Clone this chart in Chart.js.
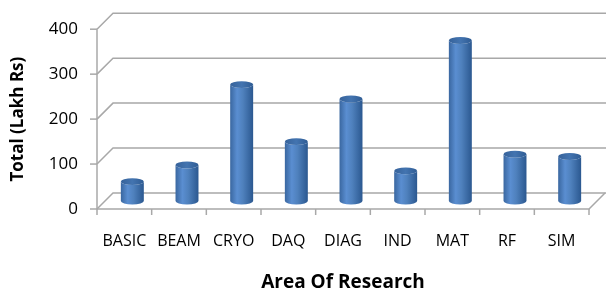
<!DOCTYPE html>
<html>
<head>
<meta charset="utf-8">
<script src="https://cdn.jsdelivr.net/npm/chart.js@4"></script>
<style>
  html, body { margin: 0; padding: 0; background: #fff; }
  #wrap { width: 606px; height: 298px; }
</style>
</head>
<body>
<div id="wrap"><canvas id="researchChart" width="606" height="298"></canvas></div>
<script>
// Data
const areas = ['BASIC', 'BEAM', 'CRYO', 'DAQ', 'DIAG', 'IND', 'MAT', 'RF', 'SIM'];
const totals = [43, 80, 259, 132, 227, 67, 357, 104, 99];
const yTicks = [0, 100, 200, 300, 400];

// 3D depth of the wall / floor, in px
const DEPTH = 16;

// Back wall, floor and axis lines drawn with the scales' own pixels
const wallPlugin = {
    id: 'wall',
    beforeDatasetsDraw(chart) {
        const { ctx, scales: { x, y } } = chart;
        const left = x.left, right = x.right;
        const y0 = y.getPixelForValue(0);
        ctx.save();
        ctx.lineWidth = 1.5;
        ctx.strokeStyle = '#a8a8a8';

        // gridlines: diagonal from the front axis, then along the back wall
        yTicks.forEach(v => {
            const py = y.getPixelForValue(v);
            ctx.beginPath();
            ctx.moveTo(left, py);
            ctx.lineTo(left + DEPTH, py - DEPTH);
            ctx.lineTo(chart.width, py - DEPTH);
            ctx.stroke();
            // small tick on the axis
            ctx.beginPath();
            ctx.moveTo(left - 7, py);
            ctx.lineTo(left, py);
            ctx.stroke();
        });

        // front axis
        ctx.beginPath();
        ctx.moveTo(left, y.getPixelForValue(400));
        ctx.lineTo(left, y0);
        ctx.stroke();

        // floor front edge and right side
        ctx.beginPath();
        ctx.moveTo(left, y0);
        ctx.lineTo(right, y0);
        ctx.lineTo(right + DEPTH, y0 - DEPTH);
        ctx.stroke();

        // category tick marks
        const step = (right - left) / areas.length;
        for (let i = 0; i <= areas.length; i++) {
            const px = left + step * i;
            ctx.beginPath();
            ctx.moveTo(px, y0);
            ctx.lineTo(px, y0 + 6);
            ctx.stroke();
        }
        ctx.restore();
    }
};

// Cylinders built on top of the (invisible) bar elements
const cylinderPlugin = {
    id: 'cylinders',
    afterDatasetsDraw(chart) {
        const { ctx } = chart;
        const meta = chart.getDatasetMeta(0);
        const shift = DEPTH / 2;
        ctx.save();
        meta.data.forEach(bar => {
            const cx = bar.x + shift;
            const top = bar.y - shift;
            const bottom = bar.base - shift;
            const rx = bar.width / 2;
            const ry = rx * 0.3;

            const grad = ctx.createLinearGradient(cx - rx, 0, cx + rx, 0);
            grad.addColorStop(0, '#3a67a0');
            grad.addColorStop(0.3, '#5a8ed1');
            grad.addColorStop(0.55, '#4f81bd');
            grad.addColorStop(1, '#2b5890');

            // body with rounded bottom
            ctx.beginPath();
            ctx.moveTo(cx - rx, top);
            ctx.lineTo(cx - rx, bottom);
            ctx.ellipse(cx, bottom, rx, ry, 0, Math.PI, 0, true);
            ctx.lineTo(cx + rx, top);
            ctx.ellipse(cx, top, rx, ry, 0, 0, Math.PI, false);
            ctx.closePath();
            ctx.fillStyle = grad;
            ctx.fill();

            // top cap
            const capGrad = ctx.createLinearGradient(cx - rx, 0, cx + rx, 0);
            capGrad.addColorStop(0, '#36629a');
            capGrad.addColorStop(0.5, '#4374b0');
            capGrad.addColorStop(1, '#2f5c94');
            ctx.beginPath();
            ctx.ellipse(cx, top, rx, ry, 0, 0, Math.PI * 2);
            ctx.fillStyle = capGrad;
            ctx.fill();
        });
        ctx.restore();
    }
};

const chartCtx = document.getElementById('researchChart').getContext('2d');
const researchChart = new Chart(chartCtx, {
    type: 'bar',
    data: {
        labels: areas,
        datasets: [{
            label: 'Total',
            data: totals,
            backgroundColor: 'rgba(0,0,0,0)',
            borderWidth: 0,
            categoryPercentage: 1,
            barPercentage: 0.42
        }]
    },
    options: {
        responsive: false,
        animation: false,
        layout: { padding: { top: 24, right: 17, left: 0, bottom: 0 } },
        scales: {
            x: {
                grid: { display: false, drawTicks: false },
                border: { display: false },
                ticks: {
                    color: '#000',
                    padding: 23,
                    font: { family: 'Open Sans', size: 16 }
                },
                title: {
                    display: true,
                    text: 'Area Of Research',
                    color: '#000',
                    padding: { top: 0, bottom: 4 },
                    font: { family: 'Open Sans', size: 19, weight: 'bold' }
                },
                afterFit: scale => { scale.height = 89; }
            },
            y: {
                min: 0,
                max: 400,
                grid: { display: false, drawTicks: false },
                border: { display: false },
                ticks: {
                    stepSize: 100,
                    color: '#000',
                    padding: 19,
                    font: { family: 'Open Sans', size: 17 }
                },
                title: {
                    display: true,
                    text: 'Total (Lakh Rs)',
                    color: '#000',
                    padding: { top: 8, bottom: 0 },
                    font: { family: 'Open Sans', size: 17, weight: 'bold' }
                },
                afterFit: scale => { scale.width = 97; }
            }
        },
        plugins: {
            legend: { display: false },
            tooltip: { enabled: false }
        }
    },
    plugins: [wallPlugin, cylinderPlugin]
});
</script>
</body>
</html>
